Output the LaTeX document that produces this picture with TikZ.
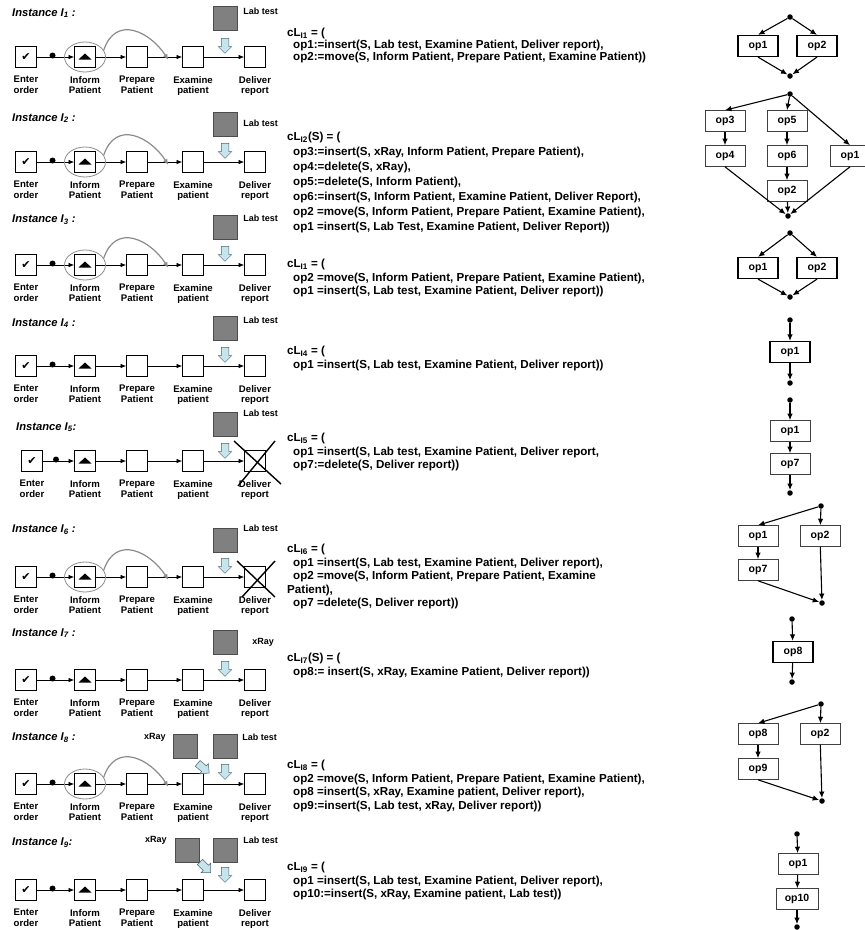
\documentclass[tikz,border=0pt]{standalone}
\usepackage{fontspec}
\setmainfont{Liberation Sans}
\newfontfamily\symfont{DejaVu Sans}
\usepackage{tikz}
\usetikzlibrary{positioning}
\usetikzlibrary{calc}
\usetikzlibrary{shapes}
\usetikzlibrary{arrows.meta}

\definecolor{samplegray}{RGB}{128,128,128}
\definecolor{arrowfill}{RGB}{198,228,236}
\definecolor{arrowline}{RGB}{80,100,112}
\definecolor{movegray}{RGB}{140,140,140}

\tikzset{
    every picture/.append style={
        >={Latex[length=5.5pt,width=4.5pt]}
    }
}
\tikzset{
    task/.style={draw=black, line width=0.8pt, fill=white, minimum size=21pt, inner sep=0pt},
    informtask/.style={task, path picture={%
        \fill[black] ($(path picture bounding box.center)+(-6.5,2.5)$) -- ++(13,0)
              -- ($(path picture bounding box.center)+(0,-3.5)$) -- cycle;}},
    tasklabel/.style={align=center, inner sep=0pt, font=\fontsize{9.6}{10.3}\selectfont\bfseries},
    flow/.style={->, line width=0.7pt},
    flowdot/.style={circle, fill=black, inner sep=0pt, minimum size=6pt},
    moveset/.style={ellipse, draw=movegray, line width=0.8pt, minimum width=41pt, minimum height=30pt, inner sep=0pt},
    movearrow/.style={draw=movegray, line width=1.2pt, -{Latex[length=6pt,width=5pt]}},
    sample/.style={draw=black!70, fill=samplegray, line width=0.5pt, minimum size=24pt, inner sep=0pt},
    samplelabel/.style={inner sep=0pt, font=\fontsize{9}{10}\selectfont\bfseries},
    insarrow/.style={single arrow, draw=arrowline, fill=arrowfill, line width=0.5pt,
        minimum height=15pt, inner xsep=0pt, inner ysep=3.5pt, single arrow head extend=3pt, rotate=-90},
    cross/.style={line width=1.4pt, black},
    ititle/.style={anchor=west, inner sep=0pt, font=\fontsize{11.2}{13}\selectfont\bfseries\itshape},
    cl/.style={anchor=north west, align=left, inner sep=0pt, font=\fontsize{11.6}{13.5}\selectfont\bfseries},
    op/.style={draw=black!75, line width=0.6pt, fill=white, minimum width=40pt, minimum height=21pt,
        inner sep=0pt, font=\fontsize{10.5}{12}\selectfont\bfseries},
    opb/.style={op, draw=black, line width=1.2pt},
    gdot/.style={circle, fill=black, inner sep=0pt, minimum size=5.5pt},
    garr/.style={-{Latex[length=6.5pt,width=5.5pt]}, line width=1.1pt}
}

\newcommand{\ind}{\hspace*{6pt}}
% one row of the process: prefix, y (optional x of first task)
\newcommand{\procrow}[3][26]{%
    \node[task] (e#2) at (#1,#3) {\symfont\fontsize{11}{11}\selectfont ✔};
    \node[informtask] (i#2) at (85,#3) {};
    \node[task] (p#2) at (137,#3) {};
    \node[task] (x#2) at (193,#3) {};
    \node[task] (d#2) at (255,#3) {};
    \node[tasklabel, below=8pt of e#2] (le#2) {Enter\\order};
    \node[tasklabel, below=8pt of i#2] (li#2) {Inform\\Patient};
    \node[tasklabel, below=8pt of p#2] (lp#2) {Prepare\\Patient};
    \node[tasklabel, below=8pt of x#2] (lx#2) {Examine\\patient};
    \node[tasklabel, below=8pt of d#2] (ld#2) {Deliver\\report};
    \draw[flow] (e#2) -- node[flowdot, pos=0.42, yshift=1.5pt] (fd#2) {} (i#2);
    \draw[flow] (i#2) -- (p#2);
    \draw[flow] (p#2) -- (x#2);
    \draw[flow] (x#2) -- (d#2);
}
% circled task and its move
\newcommand{\moveinform}[1]{%
    \node[moveset] (m#1) at (i#1) {};
    \draw[movearrow] (m#1.20) .. controls +(12,-36) and +(-18,-28) .. ($(p#1.east)!0.6!(x#1.west)+(0,3)$);
}

\begin{document}
\begin{tikzpicture}[x=1pt, y=-1pt]
    \fill[white] (0,0) rectangle (865,930);
    \useasboundingbox (0,0) rectangle (865,930);

    % instance 1
    \node[ititle] (t1) at (12,13) {Instance I\textsubscript{1} :};
    \procrow{1}{57}
    \moveinform{1}
    \node[sample] (s1) at (225,18) {};
    \node[samplelabel, anchor=west] (sl1) at ($(s1.east)+(6,-7)$) {Lab test};
    \node[insarrow] (a1) at (225,44) {};
    \node[cl, font=\fontsize{11.6}{12}\selectfont\bfseries] (c1) at (287,28) {cL\textsubscript{I1} = (\\
        \ind op1:=insert(S, Lab test, Examine Patient, Deliver report),\\
        \ind op2:=move(S, Inform Patient, Prepare Patient, Examine Patient))};

    % instance 2
    \node[ititle] (t2) at (12,118) {Instance I\textsubscript{2} :};
    \procrow{2}{162}
    \moveinform{2}
    \node[sample] (s2) at (225,124) {};
    \node[samplelabel, anchor=west] (sl2) at ($(s2.east)+(6,-1)$) {Lab test};
    \node[insarrow] (a2) at (225,149) {};
    \node[cl, font=\fontsize{11.6}{15}\selectfont\bfseries] (c2) at (287,132) {cL\textsubscript{I2}(S) = (\\
        \ind op3:=insert(S, xRay, Inform Patient, Prepare Patient),\\
        \ind op4:=delete(S, xRay),\\
        \ind op5:=delete(S, Inform Patient),\\
        \ind op6:=insert(S, Inform Patient, Examine Patient, Deliver Report),\\
        \ind op2 =move(S, Inform Patient, Prepare Patient, Examine Patient),\\
        \ind op1 =insert(S, Lab Test, Examine Patient, Deliver Report))};

    % instance 3
    \node[ititle] (t3) at (12,220) {Instance I\textsubscript{3} :};
    \procrow{3}{265}
    \moveinform{3}
    \node[sample] (s3) at (225,227) {};
    \node[samplelabel, anchor=west] (sl3) at ($(s3.east)+(6,-9)$) {Lab test};
    \node[insarrow] (a3) at (225,252) {};
    \node[cl] (c3) at (287,259) {cL\textsubscript{I1} = (\\
        \ind op2 =move(S, Inform Patient, Prepare Patient, Examine Patient),\\
        \ind op1 =insert(S, Lab test, Examine Patient, Deliver report))};

    % instance 4
    \node[ititle] (t4) at (12,323) {Instance I\textsubscript{4} :};
    \procrow{4}{366}
    \node[sample] (s4) at (225,328) {};
    \node[samplelabel, anchor=west] (sl4) at ($(s4.east)+(6,-8)$) {Lab test};
    \node[insarrow] (a4) at (225,353) {};
    \node[cl] (c4) at (287,346) {cL\textsubscript{I4} = (\\
        \ind op1 =insert(S, Lab test, Examine Patient, Deliver report))};

    % instance 5
    \node[ititle] (t5) at (16,427) {Instance I\textsubscript{5}:};
    \procrow[32]{5}{461}
    \node[sample] (s5) at (225,424) {};
    \node[samplelabel, anchor=west] (sl5) at ($(s5.east)+(6,-11)$) {Lab test};
    \node[insarrow] (a5) at (225,449) {};
    \draw[cross] ($(d5.center)+(-21,-20)$) -- ($(d5.center)+(26,23)$);
    \draw[cross] ($(d5.center)+(20,-20)$) -- ($(d5.center)+(-17,25)$);
    \node[cl] (c5) at (287,433) {cL\textsubscript{I5} = (\\
        \ind op1 =insert(S, Lab test, Examine Patient, Deliver report,\\
        \ind op7:=delete(S, Deliver report))};

    % instance 6
    \node[ititle] (t6) at (12,530) {Instance I\textsubscript{6} :};
    \procrow{6}{577}
    \moveinform{6}
    \node[sample] (s6) at (225,540) {};
    \node[samplelabel, anchor=west] (sl6) at ($(s6.east)+(6,-12)$) {Lab test};
    \node[insarrow] (a6) at (225,564) {};
    \draw[cross] ($(d6.center)+(-18,-16)$) -- ($(d6.center)+(20,20)$);
    \draw[cross] ($(d6.center)+(20,-16)$) -- ($(d6.center)+(-13,20)$);
    \node[cl] (c6) at (287,544) {cL\textsubscript{I6} = (\\
        \ind op1 =insert(S, Lab test, Examine Patient, Deliver report),\\
        \ind op2 =move(S, Inform Patient, Prepare Patient, Examine\\
        Patient),\\
        \ind op7 =delete(S, Deliver report))};

    % instance 7
    \node[ititle] (t7) at (12,633) {Instance I\textsubscript{7} :};
    \procrow{7}{680}
    \node[sample] (s7) at (225,642) {};
    \node[samplelabel, anchor=west] (sl7) at ($(s7.east)+(15,0)$) {xRay};
    \node[insarrow] (a7) at (225,667) {};
    \node[cl] (c7) at (287,653) {cL\textsubscript{I7}(S) = (\\
        \ind op8:= insert(S, xRay, Examine Patient, Deliver report))};

    % instance 8
    \node[ititle] (t8) at (12,738) {Instance I\textsubscript{8} :};
    \procrow{8}{784}
    \moveinform{8}
    \node[sample] (s8x) at (185,746) {};
    \node[samplelabel, anchor=east] (sl8x) at ($(s8x.west)+(-7,-9)$) {xRay};
    \node[insarrow, rotate=50] (a8x) at (202,767) {};
    \node[sample] (s8) at (225,746) {};
    \node[samplelabel, anchor=west] (sl8) at ($(s8.east)+(5,-9)$) {Lab test};
    \node[insarrow] (a8) at (225,770) {};
    \node[cl] (c8) at (287,760) {cL\textsubscript{I8} = (\\
        \ind op2 =move(S, Inform Patient, Prepare Patient, Examine Patient),\\
        \ind op8 =insert(S, xRay, Examine patient, Deliver report),\\
        \ind op9:=insert(S, Lab test, xRay, Deliver report))};

    % instance 9
    \node[ititle] (t9) at (12,843) {Instance I\textsubscript{9}:};
    \procrow{9}{890}
    \node[sample] (s9x) at (187,850) {};
    \node[samplelabel, anchor=east] (sl9x) at ($(s9x.west)+(-8,-10)$) {xRay};
    \node[insarrow, rotate=45] (a9x) at (204,866) {};
    \node[sample] (s9) at (225,850) {};
    \node[samplelabel, anchor=west] (sl9) at ($(s9.east)+(6,-10)$) {Lab test};
    \node[insarrow] (a9) at (225,873) {};
    \node[cl] (c9) at (287,862) {cL\textsubscript{I9} = (\\
        \ind op1 =insert(S, Lab test, Examine Patient, Deliver report),\\
        \ind op10:=insert(S, xRay, Examine patient, Lab test))};

    % change graphs
    \node[gdot] (g1s) at (790,17) {};
    \node[opb] (g1a) at (758,46) {op1};
    \node[opb] (g1b) at (817,46) {op2};
    \node[gdot] (g1e) at (790,76) {};
    \draw[garr] (g1s) -- (g1a.north);
    \draw[garr] (g1s) -- (g1b.north);
    \draw[garr] (g1a.south) -- (g1e);
    \draw[garr] (g1b.south) -- (g1e);

    \node[gdot] (g2s) at (790,94) {};
    \node[op] (g2c) at (725,121) {op3};
    \node[op] (g2d) at (725,156) {op4};
    \node[op] (g2e) at (787,121) {op5};
    \node[op] (g2f) at (787,156) {op6};
    \node[op] (g2b) at (787,191) {op2};
    \node[op] (g2a) at (850,156) {op1};
    \node[gdot] (g2t) at (788,216) {};
    \draw[garr] (g2s) -- (g2c.north);
    \draw[garr] (g2s) -- (g2e.north);
    \draw[garr] (g2s) -- (g2a.north);
    \draw[garr] (g2c) -- (g2d);
    \draw[garr] (g2e) -- (g2f);
    \draw[garr] (g2f) -- (g2b);
    \draw[garr] (g2d.south) -- (g2t);
    \draw[garr] (g2b) -- (g2t);
    \draw[garr] (g2a.south) -- (g2t);

    \node[gdot] (g3s) at (790,233) {};
    \node[opb] (g3a) at (758,268) {op1};
    \node[opb] (g3b) at (817,268) {op2};
    \node[gdot] (g3e) at (790,297) {};
    \draw[garr] (g3s) -- (g3a.north);
    \draw[garr] (g3s) -- (g3b.north);
    \draw[garr] (g3a.south) -- (g3e);
    \draw[garr] (g3b.south) -- (g3e);

    \node[gdot] (g4s) at (790,320) {};
    \node[opb] (g4a) at (790,352) {op1};
    \node[gdot] (g4e) at (790,383) {};
    \draw[garr] (g4s) -- (g4a);
    \draw[garr] (g4a) -- (g4e);

    \node[gdot] (g5s) at (790,400) {};
    \node[op] (g5a) at (790,431) {op1};
    \node[op] (g5b) at (790,464) {op7};
    \node[gdot] (g5e) at (790,493) {};
    \draw[garr] (g5s) -- (g5a);
    \draw[garr] (g5a) -- (g5b);
    \draw[garr] (g5b) -- (g5e);

    \node[gdot] (g6s) at (821,506) {};
    \node[op] (g6a) at (758,536) {op1};
    \node[op] (g6b) at (820,536) {op2};
    \node[op] (g6c) at (758,570) {op7};
    \node[gdot] (g6e) at (822,603) {};
    \draw[garr] (g6s) -- (g6a.north);
    \draw[garr] (g6s) -- (g6b);
    \draw[garr] (g6a) -- (g6c);
    \draw[garr] (g6c.south) -- (g6e);
    \draw[garr] (g6b) -- (g6e);

    \node[gdot] (g7s) at (792,619) {};
    \node[opb] (g7a) at (793,652) {op8};
    \node[gdot] (g7e) at (792,682) {};
    \draw[garr] (g7s) -- (g7a);
    \draw[garr] (g7a) -- (g7e);

    \node[gdot] (g8s) at (821,704) {};
    \node[op] (g8a) at (758,734) {op8};
    \node[op] (g8b) at (820,734) {op2};
    \node[op] (g8c) at (758,769) {op9};
    \node[gdot] (g8e) at (822,801) {};
    \draw[garr] (g8s) -- (g8a.north);
    \draw[garr] (g8s) -- (g8b);
    \draw[garr] (g8a) -- (g8c);
    \draw[garr] (g8c.south) -- (g8e);
    \draw[garr] (g8b) -- (g8e);

    \node[gdot] (g9s) at (797,834) {};
    \node[op] (g9a) at (798,864) {op1};
    \node[op, minimum width=42pt] (g9b) at (797,899) {op10};
    \node[gdot] (g9e) at (797,927) {};
    \draw[garr] (g9s) -- (g9a);
    \draw[garr] (g9a) -- (g9b);
    \draw[garr] (g9b) -- (g9e);
\end{tikzpicture}
\end{document}
